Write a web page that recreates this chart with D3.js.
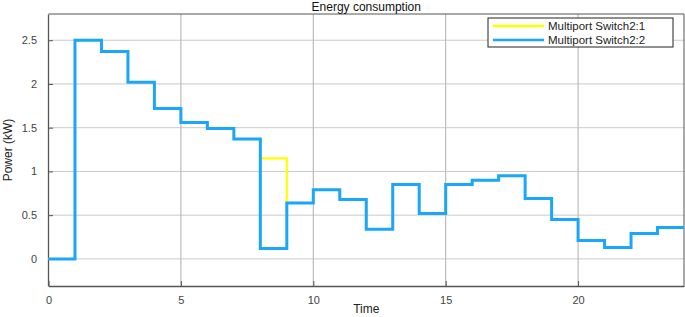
<!DOCTYPE html>
<html>
<head>
<meta charset="utf-8">
<script src="https://cdn.jsdelivr.net/npm/d3@7"></script>
<style>
  body { margin: 0; background: #fff; }
  svg { display: block; font-family: "Liberation Sans", Arial, sans-serif; }
</style>
</head>
<body>
<div id="chart"></div>
<script>
// Hourly step values (value holds from t to t+1)
const hours = d3.range(0, 25);
const switch2Power = [0, 2.5, 2.37, 2.02, 1.72, 1.56, 1.49, 1.37, 0.12, 0.64, 0.79, 0.68, 0.34,
  0.85, 0.52, 0.85, 0.90, 0.95, 0.69, 0.45, 0.21, 0.13, 0.29, 0.36, 0.36];
const switch1Power = [0, 2.5, 2.37, 2.02, 1.72, 1.56, 1.49, 1.37, 1.15, 0.64, 0.79, 0.68, 0.34,
  0.85, 0.52, 0.85, 0.90, 0.95, 0.69, 0.45, 0.21, 0.13, 0.29, 0.36, 0.36];
const xTicks = [0, 5, 10, 15, 20];
const yTicks = [0, 0.5, 1, 1.5, 2, 2.5];
const seriesNames = ["Multiport Switch2:1", "Multiport Switch2:2"];

const width = 685, height = 317;
const margin = { top: 14, right: 1, bottom: 31, left: 48 };

const svg = d3.select("#chart").append("svg")
  .attr("width", width)
  .attr("height", height);

const x = d3.scaleLinear().domain([0, 24]).range([margin.left + 0.5, width - margin.right]);
const y = d3.scaleLinear().domain([-0.31, 2.8]).range([height - margin.bottom, margin.top]);

// grid
svg.append("g")
  .selectAll("line")
  .data(xTicks.slice(1))
  .join("line")
  .attr("x1", d => x(d)).attr("x2", d => x(d))
  .attr("y1", y.range()[1]).attr("y2", y.range()[0])
  .attr("stroke", "#999").attr("stroke-width", 0.8);

svg.append("g")
  .selectAll("line")
  .data(yTicks)
  .join("line")
  .attr("x1", x.range()[0]).attr("x2", x.range()[1])
  .attr("y1", d => y(d)).attr("y2", d => y(d))
  .attr("stroke", "#bbb").attr("stroke-width", 0.8);

// axes
const xAxis = svg.append("g")
  .attr("transform", `translate(0,${height - margin.bottom})`)
  .call(d3.axisBottom(x).tickValues(xTicks).tickSize(-5).tickPadding(10).tickSizeOuter(0));
const yAxis = svg.append("g")
  .attr("transform", `translate(${margin.left},0)`)
  .call(d3.axisLeft(y).tickValues(yTicks).tickFormat(d => String(d))
    .tickSize(-5).tickPadding(11).tickSizeOuter(0));

[xAxis, yAxis].forEach(g => {
  g.select(".domain").attr("stroke", "#555").attr("stroke-width", 1.3);
  g.selectAll(".tick line").attr("stroke", "#555");
  g.selectAll(".tick text").attr("fill", "#444").style("font-size", "11px")
    .style("font-family", "'Liberation Sans', Arial, sans-serif");
});

// top / right box
svg.append("line")
  .attr("x1", x.range()[0]).attr("x2", x.range()[1])
  .attr("y1", y.range()[1]).attr("y2", y.range()[1])
  .attr("stroke", "#555").attr("stroke-width", 1);
svg.append("line")
  .attr("x1", x.range()[1]).attr("x2", x.range()[1])
  .attr("y1", y.range()[1]).attr("y2", y.range()[0])
  .attr("stroke", "#555").attr("stroke-width", 1);

// step lines
const line = d3.line()
  .x((d, i) => x(hours[i]))
  .y(d => y(d))
  .curve(d3.curveStepAfter);

svg.append("path")
  .datum(switch1Power)
  .attr("d", line)
  .attr("fill", "none")
  .attr("stroke", "#ffff00")
  .attr("stroke-width", 2.2);

svg.append("path")
  .datum(switch2Power)
  .attr("d", line)
  .attr("fill", "none")
  .attr("stroke", "#1aa6ff")
  .attr("stroke-width", 3);

// title and labels
svg.append("text")
  .attr("x", (x.range()[0] + x.range()[1]) / 2)
  .attr("y", 11)
  .attr("text-anchor", "middle")
  .style("font-size", "12px")
  .attr("fill", "#111")
  .text("Energy consumption");

svg.append("text")
  .attr("x", (x.range()[0] + x.range()[1]) / 2)
  .attr("y", 313)
  .attr("text-anchor", "middle")
  .style("font-size", "12px")
  .attr("fill", "#222")
  .text("Time");

svg.append("text")
  .attr("transform", "rotate(-90)")
  .attr("x", -150)
  .attr("y", 12)
  .attr("text-anchor", "middle")
  .style("font-size", "12px")
  .attr("fill", "#222")
  .text("Power (kW)");

// legend
const legend = svg.append("g").attr("transform", "translate(488,18)");
legend.append("rect")
  .attr("width", 185).attr("height", 29)
  .attr("fill", "#fff").attr("stroke", "#222").attr("stroke-width", 1);
const colors = ["#ffff00", "#1aa6ff"];
seriesNames.forEach((name, i) => {
  legend.append("line")
    .attr("x1", 5).attr("x2", 56)
    .attr("y1", 8 + i * 14).attr("y2", 8 + i * 14)
    .attr("stroke", colors[i]).attr("stroke-width", 2.5);
  legend.append("text")
    .attr("x", 60).attr("y", 12 + i * 14)
    .style("font-size", "11.5px")
    .attr("fill", "#222")
    .text(name);
});
</script>
</body>
</html>
